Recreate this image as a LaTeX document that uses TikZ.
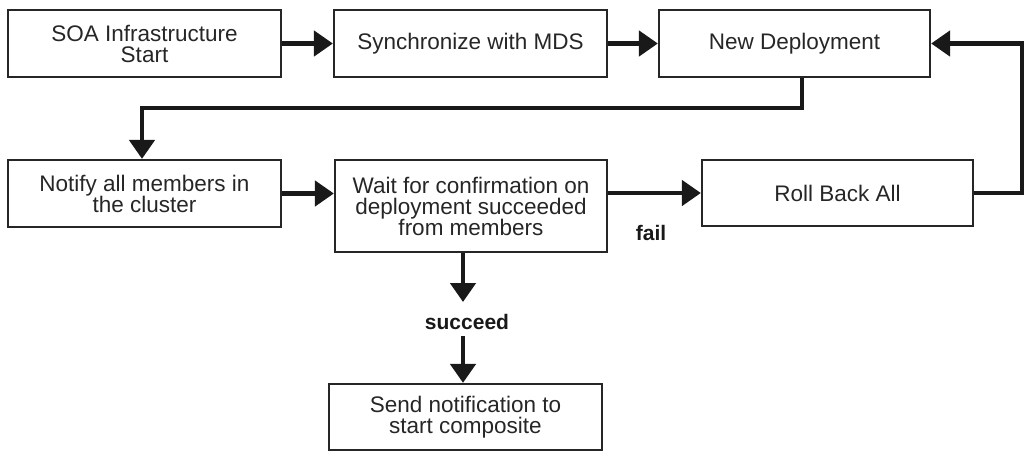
\documentclass[tikz,border=0pt]{standalone}
\usepackage{fontspec}
\setmainfont{Liberation Sans}
\usetikzlibrary{arrows.meta,calc}
\begin{document}
\begin{tikzpicture}[x=1pt,y=-1pt,
  box/.style={draw=black!85,line width=2.2pt,rectangle,align=center,inner sep=2pt,
    text=black!85,font=\fontsize{22.5}{21}\selectfont},
  conn/.style={line width=4.6pt,draw=black!90,-{Triangle[length=19pt,width=25pt]}},
  lbl/.style={font=\fontsize{21}{22}\selectfont\bfseries,text=black!90,inner sep=1pt}]
\useasboundingbox (0,0) rectangle (1027,466);
\node[box,minimum width=273pt,minimum height=67pt] (soa) at (144.5,43.5) {SOA Infrastructure\\Start};
\node[box,minimum width=273pt,minimum height=67pt] (sync) at (470.5,43.5) {Synchronize with MDS};
\node[box,minimum width=271pt,minimum height=67pt] (newd) at (794.5,43.5) {New Deployment};
\node[box,minimum width=273pt,minimum height=67pt] (notify) at (144.5,193.5) {Notify all members in\\the cluster};
\node[box,minimum width=272pt,minimum height=92pt] (wait) at (471,206) {Wait for confirmation on\\deployment succeeded\\from members};
\node[box,minimum width=271pt,minimum height=66pt] (roll) at (837.5,193) {Roll Back All};
\node[box,minimum width=273pt,minimum height=66pt] (send) at (465.5,417) {Send notification to\\start composite};
\node[lbl] (fail) at (651,233) {fail};
\node[lbl] (succ) at (467,322) {succeed};
\coordinate (c1) at (802,108);
\coordinate (c2) at (142,108);
\coordinate (c3) at (1022,193);
\coordinate (c4) at (1022,43.5);
\draw[conn] (soa.east) -- (sync.west);
\draw[conn] (sync.east) -- (newd.west);
\draw[conn] (newd.south -| c1) -- (c1) -- (c2) -- (notify.north -| c2);
\draw[conn] (notify.east) -- (notify.east -| wait.west);
\draw[conn] (wait.east |- roll.west) -- (roll.west);
\draw[conn] (roll.east) -- (c3) -- (c4) -- (newd.east);
\draw[conn] (wait.south -| 463,0) -- (463,302);
\draw[conn] (463,336) -- (send.north -| 463,0);
\end{tikzpicture}
\end{document}
